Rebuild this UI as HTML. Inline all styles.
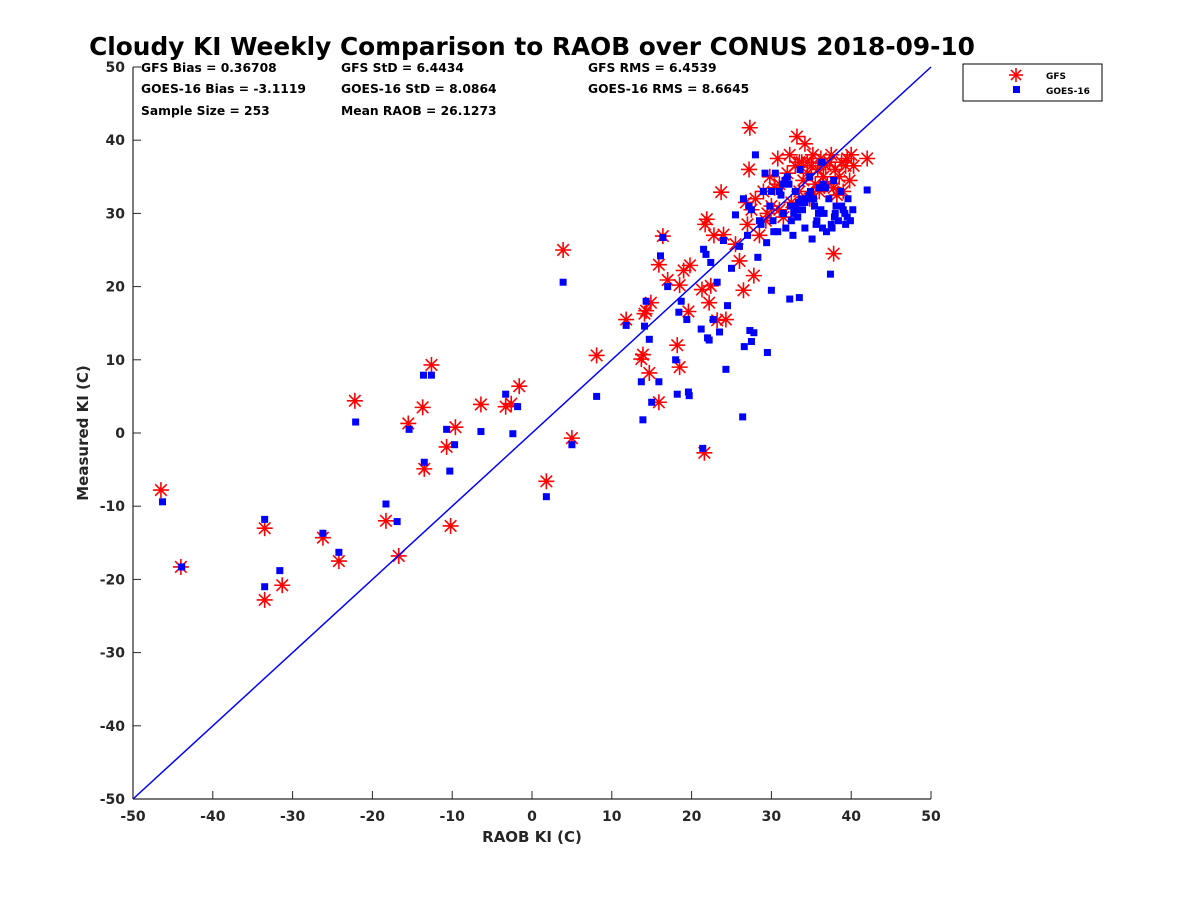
<!DOCTYPE html>
<html><head><meta charset="utf-8"><style>
body{margin:0;background:#fff;width:1200px;height:900px;overflow:hidden}
text{font-family:"DejaVu Sans","Liberation Sans",sans-serif;font-weight:bold}
</style></head><body>
<svg id="chart" width="1200" height="900" xmlns="http://www.w3.org/2000/svg">
<text x="532" y="55" font-size="24.8" text-anchor="middle" fill="#000">Cloudy KI Weekly Comparison to RAOB over CONUS 2018-09-10</text>
<g font-size="12.3" fill="#000">
<text x="141" y="72">GFS Bias = 0.36708</text><text x="341" y="72">GFS StD = 6.4434</text><text x="588" y="72">GFS RMS = 6.4539</text>
<text x="141" y="93">GOES-16 Bias = -3.1119</text><text x="341" y="93">GOES-16 StD = 8.0864</text><text x="588" y="93">GOES-16 RMS = 8.6645</text>
<text x="141" y="115">Sample Size = 253</text><text x="341" y="115">Mean RAOB = 26.1273</text>
</g>
<g id="axes"></g>
<g id="marks"></g>
<text x="532" y="842" font-size="15" text-anchor="middle" fill="#262626">RAOB KI (C)</text>
<text x="0" y="0" font-size="15" text-anchor="middle" fill="#262626" transform="translate(88,433) rotate(-90)">Measured KI (C)</text>
<g>
<rect x="963" y="64" width="139" height="37" fill="#fff" stroke="#000" stroke-width="1"/>
<g id="leg-gfs"></g>
<text x="1046" y="79" font-size="9" fill="#000">GFS</text>
<g id="leg-goes"></g>
<text x="1046" y="94" font-size="9" fill="#000">GOES-16</text>
</g>
</svg>
<script>
const xTicks=[-50,-40,-30,-20,-10,0,10,20,30,40,50];
const yTicks=[-50,-40,-30,-20,-10,0,10,20,30,40,50];
const gfsX=[-46.5,-44,-33.5,-33.5,-31.3,-26.2,-24.2,-22.2,-18.3,-16.7,-15.5,-13.7,-13.5,-12.6,-10.7,-10.2,-9.6,-6.4,-3.3,-2.6,-1.6,1.8,3.9,5,8.1,11.8,13.7,13.9,14.1,14.3,14.7,14.9,15.9,15.9,16.4,17.0,18.2,18.5,18.5,19.0,19.6,19.8,21.3,21.6,21.7,21.9,22.2,22.4,22.8,23.2,23.7,24.0,24.3,
25.5,26,26.5,27,27.2,27.5,27.8,28,28.5,29,29.3,29.8,30,30.4,30.8,31,31.5,32,32.3,32.5,33,33.2,33.5,33.8,34,34.2,34.5,34.8,35,35.2,35.5,35.8,36,36.2,36.5,36.8,37,37.3,37.5,37.8,38,38.2,38.5,38.8,39,39.3,39.5,39.8,40,40.3,42,33.5,37.8,27.3,34.5,36,31,29.5,26.8];
const gfsY=[-7.8,-18.3,-13,-22.8,-20.8,-14.3,-17.5,4.4,-12,-16.8,1.3,3.5,-4.9,9.3,-1.9,-12.7,0.8,3.9,3.6,4.0,6.4,-6.6,25,-0.7,10.6,15.5,10.1,10.7,16.3,16.7,8.2,17.8,4.2,23.0,26.9,20.9,12,9,20.2,22.2,16.6,22.9,19.6,-2.7,28.5,29.2,17.8,20.1,27,15.4,32.9,27.1,15.5,
25.8,23.5,19.5,28.5,36,30.5,21.5,32,27,33,29,35,31,33.5,37.5,34,29.5,35.5,38,31.5,36.5,40.5,33,37,34.5,39.5,35.5,32,36.5,38,34,36,33,37.5,35,36.5,34,37,38,33.5,36,32.5,35,37,33,36.5,37.5,34.5,38,36.5,37.5,37,24.5,41.7,37,33.5,30.5,30,31.5,28];
const goesX=[-46.3,-43.9,-33.5,-33.5,-31.6,-26.2,-24.2,-22.1,-18.3,-16.9,-15.4,-13.6,-13.5,-12.6,-10.7,-10.3,-9.7,-6.4,-3.3,-2.4,-1.8,1.8,3.9,5.0,8.1,11.8,13.7,13.9,14.1,14.3,14.7,15.0,15.9,16.1,16.4,17,18,18.2,18.4,18.7,19.4,19.6,19.7,21.2,21.4,21.5,21.8,22,22.2,22.4,22.7,23.2,23.5,24,24.3,24.5,26.4,26.6,27.3,27.5,27.8,29.5,30,32.3,33.5,37.4,
25,25.5,26,26.5,27,27.5,28,28.3,28.7,29,29.4,29.8,30.2,30.5,30.8,31.2,31.5,31.8,32.1,32.4,32.7,33,33.3,33.6,33.9,34.2,34.5,34.8,35.1,35.4,35.7,36,36.3,36.6,36.9,37.2,37.5,37.8,38.1,38.4,38.7,39,39.3,39.6,39.9,40.2,42,31,33,35,36.5,38,39.5,34,32,30,28.5,27.2,29.2,31.4,33.7,35.9,37.6,36.2,34.7,32.8,
32.5,34.2,35.6,36.8,38.8,33.1,31.7,30.3,35.3,37.9,39.2,34.9,33.4,36.4,32.2];
const goesY=[-9.4,-18.3,-11.8,-21,-18.8,-13.7,-16.3,1.5,-9.7,-12.1,0.5,7.9,-4,7.9,0.5,-5.2,-1.6,0.2,5.3,-0.1,3.6,-8.7,20.6,-1.6,5,14.7,7,1.8,14.6,18,12.8,4.2,7,24.2,26.7,20,10,5.3,16.5,18,15.5,5.6,5.1,14.2,-2.1,25.1,24.4,13,12.7,23.3,15.5,20.6,13.8,26.3,8.7,17.4,2.2,11.8,14,12.5,13.7,11,19.5,18.3,18.5,21.7,
22.5,29.8,25.5,32,27,30.5,38,24,28.5,33,26,31,29,35.5,27.5,32.5,30,28,34,31,27,33,29.5,36,30.5,28,32,35,26.5,31,29,33.5,37,30,27.5,32,28.5,34.5,31,29,33,30.5,28.5,32,29,30.5,33.2,33,31,32,34,30,29.5,31.5,35,33,29,31,35.5,34,32,30,28,30.5,32.5,30,
29,31.5,28.5,33.5,31,30.5,34.5,27.5,32,29.5,30,33,31.5,28,34];
const X0=133,X1=931,Y0=799,Y1=67;
const xs=v=>X0+(v+50)/100*(X1-X0);
const ys=v=>Y0-(v+50)/100*(Y0-Y1);
const NS="http://www.w3.org/2000/svg";
function mk(tag,attrs,parent){const e=document.createElementNS(NS,tag);for(const k in attrs)e.setAttribute(k,attrs[k]);parent.appendChild(e);return e;}
const axes=document.getElementById('axes');
let l=mk('line',{x1:X0,y1:Y0,x2:X1,y2:Y0,stroke:'#262626','stroke-width':1.2},axes);


l=mk('line',{x1:X0,y1:Y0,x2:X0,y2:Y1,stroke:'#262626','stroke-width':1.2},axes);


xTicks.forEach(t=>{
  mk('line',{x1:xs(t),y1:Y0,x2:xs(t),y2:Y0-8,stroke:'#262626','stroke-width':1},axes);
  const tx=mk('text',{x:xs(t),y:Y0+22,'font-size':14,'text-anchor':'middle',fill:'#262626'},axes);
  tx.textContent=t;
  
  
});
yTicks.forEach(t=>{
  mk('line',{x1:X0,y1:ys(t),x2:X0+8,y2:ys(t),stroke:'#262626','stroke-width':1},axes);
  const tx=mk('text',{x:X0-8,y:ys(t)+5,'font-size':14,'text-anchor':'end',fill:'#262626'},axes);
  tx.textContent=t;
  
  
});
const marks=document.getElementById('marks');
function star(cx,cy,p,r){
  const g=mk('g',{stroke:'#f00','stroke-width':1.6},p);
  const d=r*0.72;
  mk('line',{x1:cx-r,y1:cy,x2:cx+r,y2:cy},g);
  mk('line',{x1:cx,y1:cy-r,x2:cx,y2:cy+r},g);
  mk('line',{x1:cx-d,y1:cy-d,x2:cx+d,y2:cy+d},g);
  mk('line',{x1:cx-d,y1:cy+d,x2:cx+d,y2:cy-d},g);
  return g;
}
gfsX.forEach((v,i)=>{
  const g=star(xs(v),ys(gfsY[i]),marks,8);
  
  
});
goesX.forEach((v,i)=>{
  const r=mk('rect',{x:xs(v)-3.5,y:ys(goesY[i])-3.5,width:7,height:7,fill:'#00f'},marks);
  
  
});
l=mk('line',{x1:xs(-50),y1:ys(-50),x2:xs(50),y2:ys(50),stroke:'#00f','stroke-width':1.5},marks);


star(1016,75,document.getElementById('leg-gfs'),7);
mk('rect',{x:1013,y:86,width:7,height:7,fill:'#00f'},document.getElementById('leg-goes'));
</script>
</body></html>
